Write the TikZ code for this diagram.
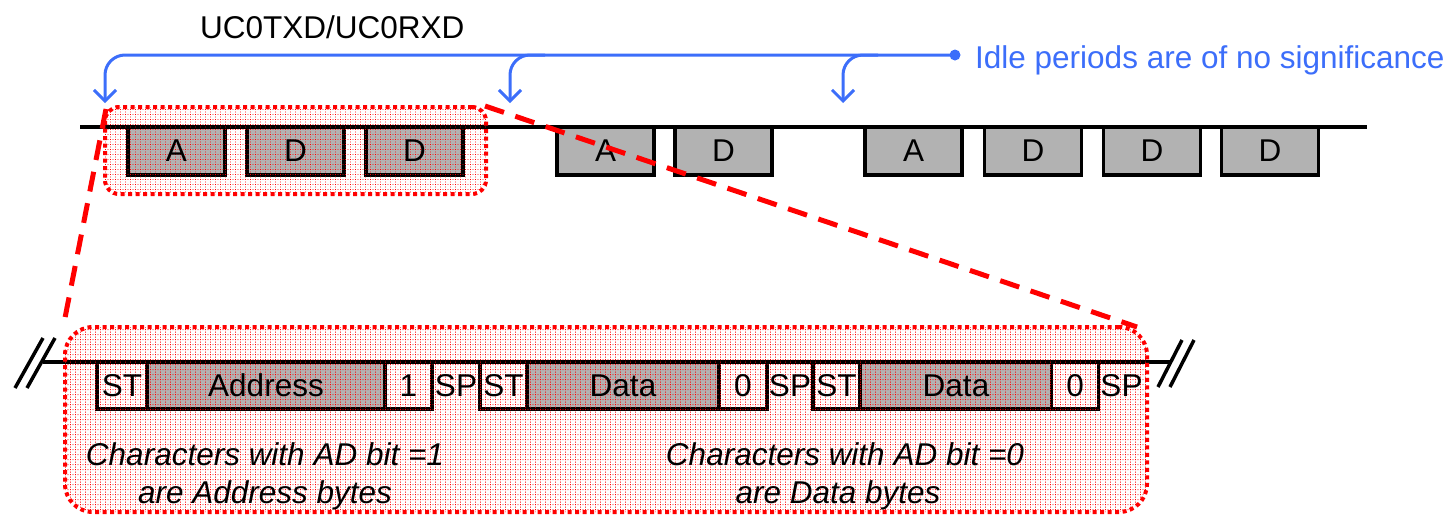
\documentclass[tikz,border=0pt]{standalone}
\usepackage{fontspec}
\setmainfont{Liberation Sans}
\usetikzlibrary{patterns,arrows.meta}
\definecolor{idleblue}{RGB}{60,110,250}
\definecolor{boxgray}{RGB}{178,178,178}
% grid of dotted red lines used to tint the magnified regions
\pgfdeclarepatternformonly{reddotgrid}{\pgfqpoint{-0.5pt}{-0.5pt}}{\pgfqpoint{5.5pt}{5.5pt}}{\pgfqpoint{5pt}{5pt}}{%
  \pgfpathrectangle{\pgfqpoint{0pt}{0pt}}{\pgfqpoint{0.9pt}{0.9pt}}%
  \pgfpathrectangle{\pgfqpoint{2.5pt}{0pt}}{\pgfqpoint{0.9pt}{0.9pt}}%
  \pgfpathrectangle{\pgfqpoint{0pt}{2.5pt}}{\pgfqpoint{0.9pt}{0.9pt}}%
  \pgfusepath{fill}%
}
\begin{document}
\begin{tikzpicture}[x=1pt,y=-1pt,
  every node/.style={font=\fontsize{31.5}{36}\selectfont, inner sep=0pt},
  byte/.style={draw=black, line width=3.5pt, fill=boxgray, minimum height=48pt, minimum width=97pt},
  field/.style={draw=black, line width=3.5pt, fill=boxgray, minimum height=47pt},
  bitbox/.style={draw=black, line width=3.5pt, fill=white, minimum height=47pt, minimum width=47pt},
  wave/.style={line width=3.5pt, line join=miter},
  zoomtint/.style={pattern=reddotgrid, pattern color=red},
  zoomborder/.style={draw=red, line width=4pt, dash pattern=on 4pt off 3.5pt},
  zoomline/.style={draw=red, line width=5pt, dash pattern=on 20pt off 12pt},
  idle/.style={draw=idleblue, line width=3pt, rounded corners=20pt},
  idletip/.style={-{Straight Barb[length=11pt,width=22pt]}},
  note/.style={font=\fontsize{31.5}{36}\selectfont\itshape}
]
\useasboundingbox (0,0) rectangle (1452,515);

% ---- serial line with characters ----
\node[anchor=base west] (sig) at (200,38) {UC0TXD/UC0RXD};
\draw[wave] (80,127) -- (1367,127);
\node[byte] (a1) at (176.5,151) {};
\node[byte] (d1) at (295.5,151) {};
\node[byte] (d2) at (414.5,151) {};
\node[byte] (a2) at (605.5,151) {};
\node[byte] (d3) at (723.5,151) {};
\node[byte] (a3) at (913.5,151) {};
\node[byte] (d4) at (1033,151) {};
\node[byte] (d5) at (1152,151) {};
\node[byte] (d6) at (1270,151) {};

% ---- idle period callout ----
\coordinate (idle) at (955,55);
\fill[idleblue] (idle) circle (5.5);
\node[anchor=base west, text=idleblue] (idletext) at (975,68) {Idle periods are of no significance};
\coordinate (gap1) at (105,103);
\coordinate (gap2) at (510,103);
\coordinate (gap3) at (843,103);
\draw[idle, idletip] (idle) -- (gap1 |- idle) -- (gap1);
\draw[idle, idletip] ([xshift=35pt]gap2 |- idle) -- (gap2 |- idle) -- (gap2);
\draw[idle, idletip] ([xshift=35pt]gap3 |- idle) -- (gap3 |- idle) -- (gap3);

% ---- bit level view of three characters ----
\draw[wave] (43,362) -- (1170,362);
\draw[wave] (97,362) -- (97,409) -- (432,409) -- (432,362);
\draw[wave] (480,362) -- (480,409) -- (767,409) -- (767,362);
\draw[wave] (813,362) -- (813,409) -- (1098,409) -- (1098,362);
% break marks
\draw[wave] (15,388) -- (43,338);
\draw[wave] (27,388) -- (55,338);
\draw[wave] (1158,387) -- (1182,340);
\draw[wave] (1170,387) -- (1194,340);

\node[field, minimum width=238pt] (addr) at (266,385.5) {};
\node[bitbox] (b1) at (408.5,385.5) {};
\node[field, minimum width=192pt] (data1) at (623,385.5) {};
\node[bitbox] (b2) at (743,385.5) {};
\node[field, minimum width=192pt] (data2) at (956,385.5) {};
\node[bitbox] (b3) at (1075,385.5) {};

% ---- magnified regions: dotted tint ----
\path[zoomtint, rounded corners=14pt] (105,107) rectangle (486,194);
\path[zoomtint, rounded corners=28pt] (65,327) rectangle (1147,512);

% ---- labels on top of the tint ----
\node at (a1) {A};
\node at (d1) {D};
\node at (d2) {D};
\node at (a2) {A};
\node at (d3) {D};
\node at (a3) {A};
\node at (d4) {D};
\node at (d5) {D};
\node at (d6) {D};

\node at (addr) {Address};
\node at (b1) {1};
\node at (data1) {Data};
\node at (b2) {0};
\node at (data2) {Data};
\node at (b3) {0};

\node (st1) at (122,385.5) {ST};
\node (sp1) at (456,385.5) {SP};
\node (st2) at (503.5,385.5) {ST};
\node (sp2) at (790,385.5) {SP};
\node (st3) at (836.5,385.5) {ST};
\node (sp3) at (1121.5,385.5) {SP};

\node[note, anchor=base] (n1) at (265,465) {Characters with AD bit =1};
\node[note, anchor=base] (n2) at (265,503) {are Address bytes};
\node[note, anchor=base] (n3) at (845,465) {Characters with AD bit =0};
\node[note, anchor=base] (n4) at (838,503) {are Data bytes};

% ---- magnified regions: outlines and guide lines ----
\node[zoomborder, rounded corners=14pt, minimum width=381pt, minimum height=87pt] (zoomA) at (295.5,150.5) {};
\node[zoomborder, rounded corners=28pt, minimum width=1082pt, minimum height=185pt] (zoomB) at (606,419.5) {};
\draw[zoomline] ([xshift=3pt,yshift=-4pt]zoomA.north west) -- ([xshift=1pt,yshift=2pt]zoomB.north west);
\draw[zoomline] ([xshift=-3pt,yshift=-1pt]zoomA.north east) -- ([xshift=-12pt,yshift=-2pt]zoomB.north east);
\end{tikzpicture}
\end{document}
